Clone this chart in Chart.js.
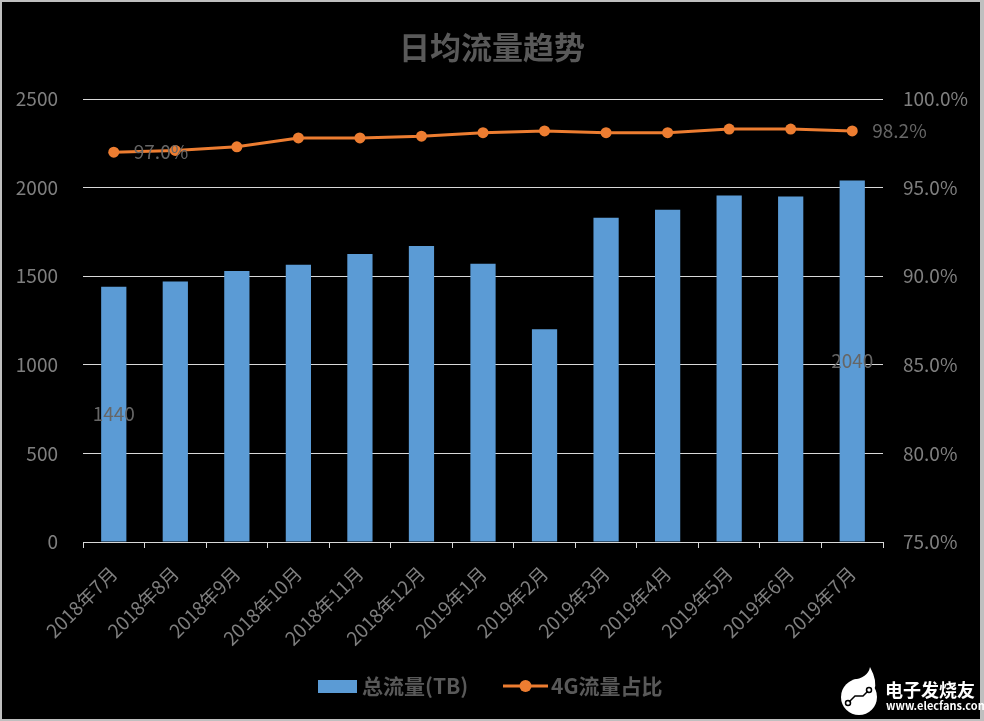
<!DOCTYPE html>
<html lang="zh">
<head>
    <meta charset="UTF-8">
    <title>日均流量趋势</title>
    <script src="https://cdn.jsdelivr.net/npm/chart.js@4.4.3/dist/chart.umd.min.js"></script>
    <style>
        html, body { margin: 0; padding: 0; background: #000; }
        #chart { display: block; }
    </style>
</head>
<body>
    <canvas id="chart" width="984" height="721"></canvas>
    <script>
        // データ
        const months = ['2018年7月', '2018年8月', '2018年9月', '2018年10月', '2018年11月', '2018年12月',
            '2019年1月', '2019年2月', '2019年3月', '2019年4月', '2019年5月', '2019年6月', '2019年7月'];
        const totalTraffic = [1440, 1470, 1530, 1565, 1625, 1670, 1570, 1200, 1830, 1875, 1955, 1950, 2040];
        const share4G = [97.0, 97.1, 97.3, 97.8, 97.8, 97.9, 98.1, 98.2, 98.1, 98.1, 98.3, 98.3, 98.2];
        const leftTicks = [0, 500, 1000, 1500, 2000, 2500];
        const rightTicks = [75, 80, 85, 90, 95, 100];

        const FONT = '"Noto Sans CJK SC", "Noto Sans", sans-serif';
        const GRAY = '#7f7f7f';

        // 背景・枠
        const backgroundPlugin = {
            id: 'backgroundPlugin',
            beforeDraw: function(chart) {
                const c = chart.ctx;
                c.save();
                c.fillStyle = '#bfbfbf';
                c.fillRect(0, 0, chart.width, chart.height);
                c.fillStyle = '#000';
                c.fillRect(2, 2, chart.width - 6, chart.height - 4);
                c.restore();
            }
        };

        // タイトル・凡例・データラベル・ロゴ
        const decorPlugin = {
            id: 'decorPlugin',
            afterDatasetsDraw: function(chart) {
                const c = chart.ctx;
                c.save();

                // data labels (first & last only)
                const barMeta = chart.getDatasetMeta(0);
                const lineMeta = chart.getDatasetMeta(1);
                const last = months.length - 1;
                c.font = '19px ' + FONT;
                c.fillStyle = '#666';
                c.textBaseline = 'middle';
                c.textAlign = 'center';
                [0, last].forEach(i => {
                    const p = barMeta.data[i].getCenterPoint();
                    c.fillText(String(totalTraffic[i]), p.x, p.y);
                });
                c.textAlign = 'left';
                [0, last].forEach(i => {
                    const el = lineMeta.data[i];
                    c.fillText(share4G[i].toFixed(1) + '%', el.x + 20, el.y);
                });

                // title
                c.font = 'bold 31px ' + FONT;
                c.fillStyle = '#595959';
                c.textAlign = 'center';
                c.fillText('日均流量趋势', 492, 47);

                // legend
                c.fillStyle = '#5b9bd5';
                c.fillRect(318, 680, 39, 13);
                c.font = 'bold 21px ' + FONT;
                c.fillStyle = '#595959';
                c.textAlign = 'left';
                c.fillText('总流量(TB)', 362, 686);
                c.strokeStyle = '#ed7d31';
                c.lineWidth = 3;
                c.beginPath();
                c.moveTo(503, 686);
                c.lineTo(548, 686);
                c.stroke();
                c.fillStyle = '#ed7d31';
                c.beginPath();
                c.arc(525.5, 686, 6, 0, Math.PI * 2);
                c.fill();
                c.fillStyle = '#595959';
                c.fillText('4G流量占比', 551, 686);

                // watermark logo
                c.fillStyle = '#fff';
                c.beginPath();
                c.arc(859, 697, 18, 0, Math.PI * 2);
                c.fill();
                c.beginPath();
                c.moveTo(852, 680);
                c.quadraticCurveTo(868, 678, 870, 667);
                c.quadraticCurveTo(878, 682, 874, 690);
                c.fill();
                c.strokeStyle = '#000';
                c.lineWidth = 1.5;
                c.beginPath();
                c.moveTo(849, 702);
                c.lineTo(855, 696);
                c.lineTo(863, 696);
                c.lineTo(868, 691);
                c.stroke();
                c.beginPath();
                c.arc(848, 703, 2.5, 0, Math.PI * 2);
                c.stroke();
                c.beginPath();
                c.arc(869, 690, 2.5, 0, Math.PI * 2);
                c.stroke();
                c.fillStyle = '#fff';
                c.font = 'bold 18px ' + FONT;
                c.fillText('电子发烧友', 885, 690);
                c.font = 'bold 11px ' + FONT;
                c.fillText('www.elecfans.com', 886, 706);

                c.restore();
            }
        };

        const ctx = document.getElementById('chart').getContext('2d');
        const myChart = new Chart(ctx, {
            data: {
                labels: months,
                datasets: [{
                    type: 'bar',
                    label: '总流量(TB)',
                    data: totalTraffic,
                    yAxisID: 'y',
                    backgroundColor: '#5b9bd5',
                    barPercentage: 0.41,
                    categoryPercentage: 1,
                    order: 1,
                }, {
                    type: 'line',
                    label: '4G流量占比',
                    data: share4G,
                    yAxisID: 'y1',
                    borderColor: '#ed7d31',
                    backgroundColor: '#ed7d31',
                    borderWidth: 3,
                    pointRadius: 5.5,
                    pointBorderWidth: 0,
                    tension: 0,
                    order: 0,
                }]
            },
            plugins: [backgroundPlugin, decorPlugin],
            options: {
                animation: false,
                responsive: false,
                layout: { padding: { top: 99, bottom: 59, left: 0, right: 0 } },
                plugins: {
                    legend: { display: false },
                    title: { display: false },
                    tooltip: { enabled: false },
                },
                scales: {
                    x: {
                        grid: {
                            offset: true,
                            drawOnChartArea: false,
                            drawTicks: true,
                            tickLength: 6,
                            color: '#d9d9d9',
                        },
                        border: { display: true, color: '#d9d9d9' },
                        ticks: {
                            color: GRAY,
                            font: { family: FONT, size: 19 },
                            minRotation: 45,
                            maxRotation: 45,
                            autoSkip: false,
                            padding: 14,
                        },
                        afterFit: function(scale) { scale.height = 120; },
                    },
                    y: {
                        position: 'left',
                        min: 0,
                        max: 2500,
                        afterBuildTicks: function(scale) {
                            scale.ticks = leftTicks.map(v => ({ value: v }));
                        },
                        grid: { color: '#d9d9d9', drawTicks: false },
                        border: { display: false },
                        ticks: {
                            color: GRAY,
                            padding: 25,
                            font: { family: FONT, size: 19 },
                            callback: v => String(v),
                        },
                        afterFit: function(scale) { scale.width = 83; },
                    },
                    y1: {
                        position: 'right',
                        min: 75,
                        max: 100,
                        afterBuildTicks: function(scale) {
                            scale.ticks = rightTicks.map(v => ({ value: v }));
                        },
                        grid: { drawOnChartArea: false, drawTicks: false },
                        border: { display: false },
                        ticks: {
                            color: GRAY,
                            padding: 20,
                            font: { family: FONT, size: 19 },
                            callback: v => v.toFixed(1) + '%',
                        },
                        afterFit: function(scale) { scale.width = 101; },
                    }
                }
            }
        });
    </script>
</body>
</html>
